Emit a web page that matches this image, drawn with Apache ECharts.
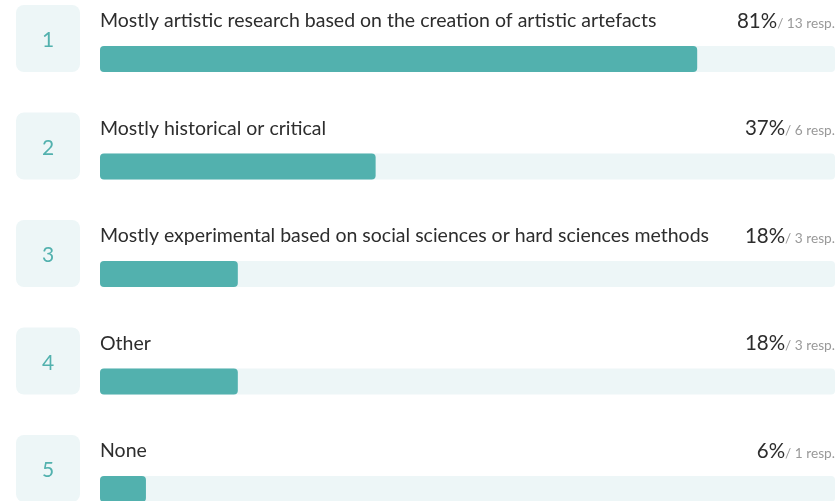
<!DOCTYPE html>
<html>
<head>
<meta charset="utf-8">
<script src="https://cdn.jsdelivr.net/npm/echarts@6/dist/echarts.min.js"></script>
<style>html,body{margin:0;padding:0;background:#fff;}#c{width:837px;height:501px;}</style>
</head>
<body>
<div id="c"></div>
<script>
const categories = [
  "Mostly artistic research based on the creation of artistic artefacts",
  "Mostly historical or critical",
  "Mostly experimental based on social sciences or hard sciences methods",
  "Other",
  "None"
];
const shares = [81.25, 37.5, 18.75, 18.75, 6.25];
const percentLabels = ["81%", "37%", "18%", "18%", "6%"];
const responses = [13, 6, 3, 3, 1];
const rankLabels = ["1", "2", "3", "4", "5"];

const TEAL = '#52b1ae';
const LIGHT = '#edf6f7';
const FONT = 'Lato, "Noto Sans", sans-serif';

const chart = echarts.init(document.getElementById('c'), null, {renderer: 'canvas'});
chart.setOption({
  animation: false,
  grid: {left: 100, right: 2, top: 0, bottom: 0, outerBoundsMode: 'none'},
  xAxis: {type: 'value', min: 0, max: 100, show: false},
  yAxis: {type: 'value', inverse: true, min: -0.5488, max: 4.1116, show: false},
  series: [{
    type: 'custom',
    encode: {x: 0, y: 1},
    data: shares.map((s, i) => [s, i]),
    renderItem: function (params, api) {
      const i = api.value(1);
      const v = api.value(0);
      const start = api.coord([0, i]);
      const end = api.coord([v, i]);
      const full = api.coord([100, i]);
      const cy = start[1];
      const barH = 26;
      const top = cy - barH / 2;
      const textY = cy - 38;
      return {
        type: 'group',
        children: [
          {type: 'rect', shape: {x: 16, y: cy - 54, width: 64, height: 67, r: 8}, style: {fill: LIGHT}},
          {type: 'text', style: {text: rankLabels[i], x: 48, y: cy - 18.5, align: 'center', verticalAlign: 'middle', fill: TEAL, font: '21px ' + FONT}},
          {type: 'rect', shape: {x: start[0], y: top, width: full[0] - start[0], height: barH, r: 4}, style: {fill: LIGHT}},
          {type: 'rect', shape: {x: start[0], y: top, width: end[0] - start[0], height: barH, r: 4}, style: {fill: TEAL}},
          {type: 'text', style: {text: categories[i], x: start[0], y: textY, align: 'left', verticalAlign: 'middle', fill: '#2d2d2d', font: '19.5px ' + FONT}},
          {type: 'text', style: {
            text: '{p|' + percentLabels[i] + '}{r|/ ' + responses[i] + ' resp.}',
            x: full[0], y: textY, align: 'right', verticalAlign: 'middle',
            rich: {
              p: {fontSize: 20.5, fill: '#2d2d2d', fontFamily: FONT, verticalAlign: 'bottom'},
              r: {fontSize: 13.7, fill: '#999', fontFamily: FONT, verticalAlign: 'bottom', padding: [0, 0, 1, 0]}
            }
          }}
        ]
      };
    }
  }]
});
</script>
</body>
</html>
